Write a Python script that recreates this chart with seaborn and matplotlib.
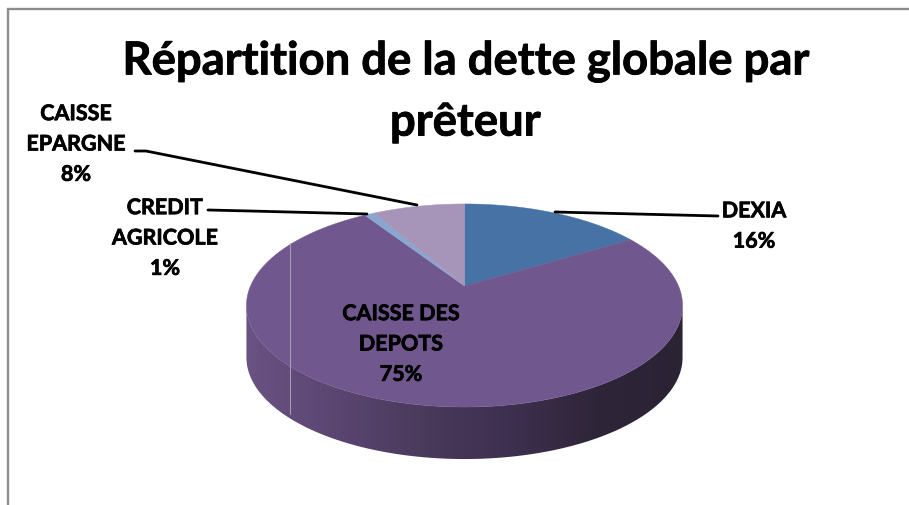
import numpy as np
import matplotlib
matplotlib.use("Agg")
import matplotlib.pyplot as plt
import matplotlib.patheffects as pe
from matplotlib.patches import Polygon
from matplotlib.colors import LinearSegmentedColormap
import seaborn as sns

# valeurs de la dette par preteur (sens horaire depuis le haut)
lenders = ["DEXIA", "CAISSE DES\nDEPOTS", "CREDIT\nAGRICOLE", "CAISSE\nEPARGNE"]
shares = [16.3, 74.6, 0.9, 8.2]
slice_colors = ["#4672a6", "#70588e", "#89a6d0", "#a695b9"]
side_colors = ["#6a5282", "#5b4672", "#4a3a5c", "#3e3050", "#2f2539", "#2b2234"]
title = "Répartition de la dette globale par\nprêteur"

# geometrie de la projection (pixels)
CX, CY = 464.5, 287
A, B, K = 214, 97.8, 0.192
DEPTH = 52

sns.set_theme(style="white")
plt.rcParams["font.family"] = ["Lato", "DejaVu Sans"]
plt.rcParams["font.weight"] = "bold"


# cercle unite -> ellipse en perspective
def project(theta, dy=0):
    u, v = np.sin(theta), np.cos(theta)
    w = 1 + K * v
    return np.column_stack([CX + A * u / w, CY - B * v / w + dy])


fig = plt.figure(figsize=(9.09, 5.06), dpi=100)
ax = fig.add_axes([0, 0, 1, 1])
ax.axis("off")

# cadre
ax.plot([7.5, 7.5, 909], [506, 10, 10], color="#8c8c8c", lw=1.7, solid_joinstyle="miter")

# cote du camembert, degrade de gauche a droite
t0 = np.arccos(-K)
lower = np.linspace(t0, 2 * np.pi - t0, 300)
side = np.vstack([project(lower), project(lower[::-1], DEPTH)])
poly = Polygon(side, closed=True, fc="none", ec="none")
ax.add_patch(poly)
cmap = LinearSegmentedColormap.from_list("side", sns.color_palette(side_colors))
grad = np.linspace(0, 1, 256).reshape(1, -1)
im = ax.imshow(grad, cmap=cmap, extent=(246, 683, 470, 290), aspect="auto", zorder=2)
im.set_clip_path(poly)

# dessus du camembert
edges = np.radians(np.cumsum([0] + shares) * 3.6)
for i, color in enumerate(slice_colors):
    arc = project(np.linspace(edges[i], edges[i + 1], 200))
    pts = np.vstack([[CX, CY], arc])
    ax.add_patch(Polygon(pts, closed=True, fc=color, ec=color, lw=0.3, zorder=3))

# trait clair vertical du fond
ax.plot([290, 290], [244, 415], color="#a79cb5", lw=0.8, zorder=4)

# traits de rappel
leaders_x = [[555, 718], [208, 250, 367], [135, 146, 417]]
leaders_y = [[213, 217], [211, 212, 215], [152, 152, 206]]
for xs, ys in zip(leaders_x, leaders_y):
    ax.plot(xs, ys, color="black", lw=2, zorder=5)

ax.text(465, 93, title, ha="center", va="center", fontsize=32.7, linespacing=1.55,
        color="black", fontweight="bold",
        path_effects=[pe.withStroke(linewidth=0.6, foreground="black")])

# etiquettes
label_x = [754, 401, 165, 76]
label_y = [227, 345, 239, 145]
for name, share, x, y in zip(lenders, shares, label_x, label_y):
    ax.text(x, y, f"{name}\n{share:.0f}%", ha="center", va="center", fontsize=15.5,
            linespacing=1.55, color="black", fontweight="bold", zorder=6,
            path_effects=[pe.withStroke(linewidth=0.5, foreground="black")])

ax.set_xlim(0, 909)
ax.set_ylim(506, 0)

fig.savefig("out.png", dpi=100)
